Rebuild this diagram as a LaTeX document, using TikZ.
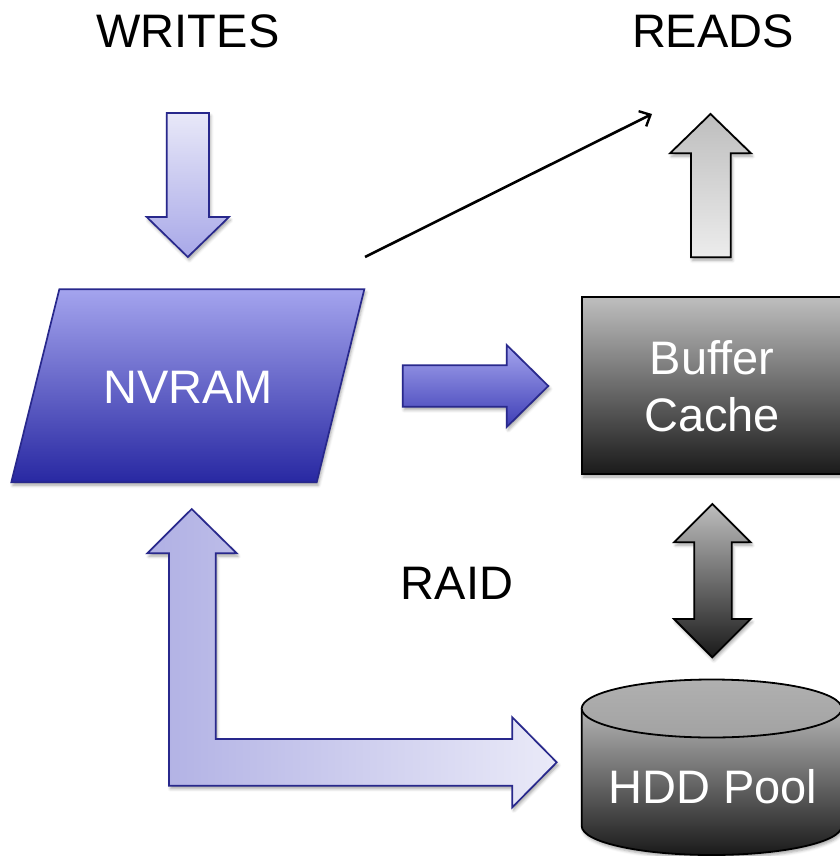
\documentclass[tikz,border=0pt]{standalone}
\usepackage{fontspec}
\setmainfont{Liberation Sans}
\usetikzlibrary{arrows.meta,shadows.blur}
\definecolor{navy}{RGB}{40,40,140}
\definecolor{nvtop}{RGB}{164,164,238}
\definecolor{nvbot}{RGB}{40,40,162}
\definecolor{wtop}{RGB}{232,232,248}
\definecolor{wbot}{RGB}{168,168,232}
\definecolor{rtop}{RGB}{165,165,238}
\definecolor{rbot}{RGB}{62,62,182}
\definecolor{lleft}{RGB}{176,176,228}
\definecolor{lright}{RGB}{234,234,248}
\definecolor{gtop}{RGB}{190,190,190}
\definecolor{glight}{RGB}{236,236,236}
\definecolor{gdark}{RGB}{26,26,26}
\definecolor{gcyl}{RGB}{180,180,180}
\begin{document}
\begin{tikzpicture}[x=1pt,y=-1pt,
  lbl/.style={font=\fontsize{47}{57}\selectfont, inner sep=0pt, anchor=base},
  wlbl/.style={font=\fontsize{47}{57}\selectfont, inner sep=0pt, text=white, align=center},
  blueedge/.style={draw=navy, line width=1.7pt, line join=miter},
  grayedge/.style={draw=black, line width=1.8pt, line join=miter},
  shad/.style={blur shadow={shadow xshift=1.5pt, shadow yshift=-3pt, shadow blur radius=3pt, shadow opacity=35}},
]
\useasboundingbox (0,0) rectangle (839,856);

% labels
\node[lbl] (writes) at (188,48) {WRITES};
\node[lbl] (reads) at (713,48) {READS};
\node[lbl] (raid) at (457,599) {RAID};

% writes arrow
\shadedraw[blueedge, shad, top color=wtop, bottom color=wbot]
  (166.7,113) -- (209,113) -- (209,217) -- (229,217) -- (187.8,257)
  -- (146.7,217) -- (166.7,217) -- cycle;

% NVRAM
\shadedraw[blueedge, shad, top color=nvtop, bottom color=nvbot]
  (59.3,289.3) -- (364.3,289.3) -- (316.7,482.3) -- (11.3,482.3) -- cycle;
\node[wlbl] (nvram) at (188,387) {NVRAM};

% reads arrow
\shadedraw[grayedge, shad, top color=gtop, bottom color=glight]
  (691,257.3) -- (691,153.3) -- (670,153.3) -- (710.5,114) -- (751,153.3)
  -- (730.7,153.3) -- (730.7,257.3) -- cycle;

% diagonal read path
\coordinate (dstart) at (365,257);
\coordinate (dend) at (652,114);
\draw[line width=2.6pt, -{Straight Barb[length=9pt,width=17pt,line width=2.4pt]}] (dstart) -- (dend);

% NVRAM -> buffer cache
\shadedraw[blueedge, shad, top color=rtop, bottom color=rbot]
  (402.7,365.2) -- (506.7,365.2) -- (506.7,345) -- (548.3,386) -- (506.7,427)
  -- (506.7,406.8) -- (402.7,406.8) -- cycle;

% Buffer cache
\shadedraw[grayedge, shad, top color=gtop, bottom color=gdark]
  (581.7,297.3) rectangle (845,474);
\node[wlbl] (cache) at (712,386.5) {Buffer\\Cache};

% double arrow
\shadedraw[grayedge, shad, top color=gtop, bottom color=gdark]
  (712.3,504) -- (750.7,542.3) -- (731.7,542.3) -- (731.7,619) -- (750.7,619)
  -- (712.3,657.3) -- (674,619) -- (694.3,619) -- (694.3,542.3) -- (674,542.3) -- cycle;

% RAID L-arrow
\shadedraw[blueedge, shad, left color=lleft, right color=lright]
  (191.7,509) -- (236.7,553.3) -- (215.7,553.3) -- (215.7,739) -- (512.3,739)
  -- (512.3,717.3) -- (556.7,762.3) -- (512.3,807.3) -- (512.3,785.7)
  -- (169,785.7) -- (169,553.3) -- (147.3,553.3) -- cycle;

% HDD pool cylinder
\shadedraw[grayedge, shad, top color=gcyl, bottom color=gdark]
  (581.7,708.5) -- (581.7,826) arc[start angle=180, end angle=0, x radius=130, y radius=29]
  -- (841.7,708.5) -- cycle;
\shadedraw[grayedge, top color=gcyl!105, bottom color=gcyl!90!black]
  (711.7,708.5) ellipse [x radius=130, y radius=29];
\node[wlbl] (hdd) at (713,787) {HDD Pool};
\end{tikzpicture}
\end{document}
